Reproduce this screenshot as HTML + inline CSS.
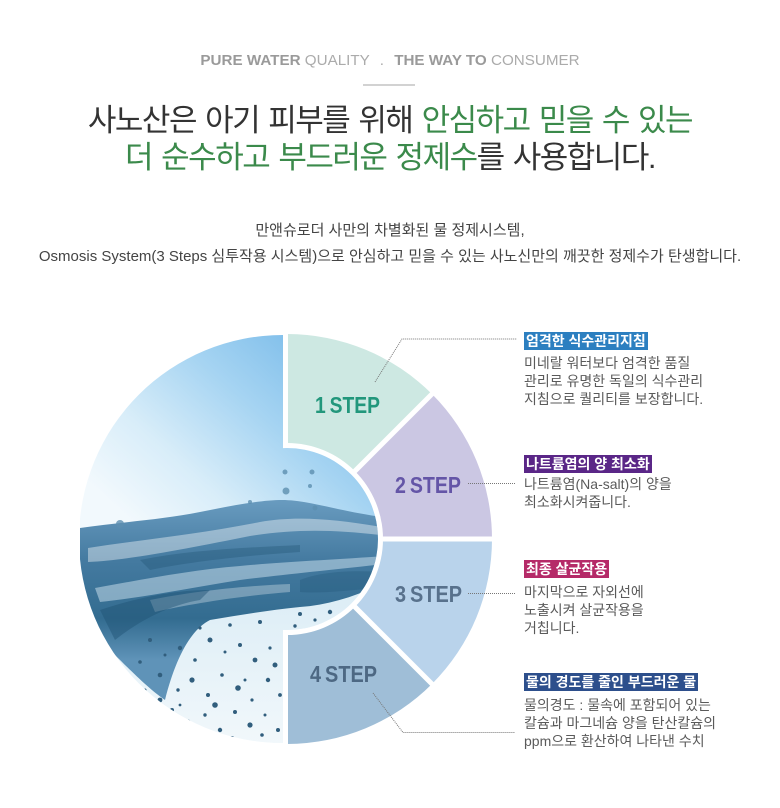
<!DOCTYPE html>
<html><head><meta charset="utf-8">
<style>
html,body{margin:0;padding:0;background:#fff;}
body{width:780px;height:808px;position:relative;overflow:hidden;font-family:"Liberation Sans","Noto Sans CJK KR",sans-serif;}
.abs{position:absolute;}
.box{position:absolute;left:524px;height:18px;line-height:18px;font-size:14px;font-weight:700;color:#fff;padding:0 2px;white-space:nowrap;font-family:"Liberation Sans","Noto Sans CJK KR",sans-serif;}
.body{position:absolute;left:524px;font-size:14px;line-height:18px;color:#5a5a5a;white-space:nowrap;font-family:"Liberation Sans","Noto Sans CJK KR",sans-serif;}
</style></head>
<body>

<div class="abs" style="left:0;top:52px;width:780px;text-align:center;font-family:'Liberation Sans',sans-serif;font-size:15.2px;line-height:18px;color:#ababab;"><b style="color:#9a9a9a">PURE WATER</b> QUALITY <span style="margin:0 6px">.</span> <b style="color:#9a9a9a">THE WAY TO</b> CONSUMER</div>
<div class="abs" style="left:363px;top:84px;width:52px;height:2px;background:#d2d2d2"></div>

<div class="abs" style="left:0;top:102px;width:780px;text-align:center;font-family:'Liberation Sans','Noto Sans CJK KR',sans-serif;font-size:31px;line-height:37px;letter-spacing:-1.5px;word-spacing:2px;color:#333;">사노산은 아기 피부를 위해 <span style="color:#3b8a4b">안심하고 믿을 수 있는</span><br><span style="color:#3b8a4b">더 순수하고 부드러운 정제수</span>를 사용합니다.</div>

<div class="abs" style="left:0;top:218px;width:780px;text-align:center;font-family:'Liberation Sans','Noto Sans CJK KR',sans-serif;font-size:15px;line-height:26px;color:#444;">만앤슈로더 사만의 차별화된 물 정제시스템,<br>Osmosis System(3 Steps 심투작용 시스템)으로 안심하고 믿을 수 있는 사노신만의 깨끗한 정제수가 탄생합니다.</div>

<svg class="abs" style="left:0;top:0" width="780" height="808" viewBox="0 0 780 808">
<defs>
  <clipPath id="imgclip">
    <path d="M283 335 A204 204 0 0 0 283 743 Z"/>
    <circle cx="287" cy="539" r="91"/>
  </clipPath>
  <linearGradient id="sky" gradientUnits="userSpaceOnUse" x1="300" y1="330" x2="130" y2="520">
    <stop offset="0" stop-color="#7dbdea"/>
    <stop offset="0.35" stop-color="#a6d4f2"/>
    <stop offset="0.7" stop-color="#d8edf9"/>
    <stop offset="1" stop-color="#f2f9fd"/>
  </linearGradient>
  <linearGradient id="bot" gradientUnits="userSpaceOnUse" x1="0" y1="590" x2="0" y2="750">
    <stop offset="0" stop-color="#dcedf6"/>
    <stop offset="1" stop-color="#f2f8fb"/>
  </linearGradient>
  <linearGradient id="wave" gradientUnits="userSpaceOnUse" x1="0" y1="495" x2="0" y2="660">
    <stop offset="0" stop-color="#6c9ec2"/>
    <stop offset="0.4" stop-color="#447aa0"/>
    <stop offset="0.75" stop-color="#336c90"/>
    <stop offset="1" stop-color="#5f93b8"/>
  </linearGradient>
</defs>

<g clip-path="url(#imgclip)">
  <rect x="80" y="330" width="310" height="420" fill="url(#sky)"/>
  <rect x="80" y="590" width="310" height="165" fill="url(#bot)"/>
  <path d="M80 528 C120 522,160 520,200 512 C230 506,260 500,282 500 C310 500,340 512,390 518 L390 580 C360 595,330 605,300 607 C270 610,240 615,210 620 C190 630,175 660,165 700 C150 690,130 670,115 655 C100 640,88 620,80 605 Z" fill="url(#wave)"/>
  <path d="M88 548 C140 540,200 534,260 522 C300 515,340 520,388 528 L388 536 C340 530,300 528,250 536 C190 548,130 560,88 562 Z" fill="#ffffff" opacity="0.4"/>
  <path d="M95 588 C140 580,190 570,240 566 C280 562,330 560,385 556 L385 564 C330 570,280 575,240 580 C190 588,140 598,100 602 Z" fill="#e2f2fb" opacity="0.45"/>
  <path d="M150 600 C190 592,240 586,290 584 L290 592 C240 596,190 604,155 612 Z" fill="#ffffff" opacity="0.3"/>
  <path d="M100 610 C130 600,170 590,210 590 L200 600 C170 605,140 620,115 640 Z" fill="#1f5274" opacity="0.45"/>
  <path d="M140 560 C190 550,240 548,300 545 L300 552 C240 556,190 562,150 570 Z" fill="#1f5274" opacity="0.35"/>
  <path d="M300 580 C320 572,350 570,380 572 L380 588 C350 590,320 594,300 592 Z" fill="#1f5274" opacity="0.3"/>
  <g fill="#315e7d">
    <circle cx="150" cy="640" r="2"/><circle cx="165" cy="655" r="1.5"/><circle cx="180" cy="648" r="2.2"/>
    <circle cx="195" cy="660" r="1.8"/><circle cx="210" cy="640" r="2.5"/><circle cx="225" cy="652" r="1.5"/>
    <circle cx="240" cy="645" r="2"/><circle cx="255" cy="660" r="2.4"/><circle cx="270" cy="648" r="1.6"/>
    <circle cx="160" cy="675" r="2.3"/><circle cx="178" cy="690" r="1.7"/><circle cx="192" cy="680" r="2.6"/>
    <circle cx="208" cy="695" r="2"/><circle cx="222" cy="675" r="1.8"/><circle cx="238" cy="688" r="2.8"/>
    <circle cx="252" cy="700" r="1.6"/><circle cx="268" cy="680" r="2.2"/><circle cx="280" cy="695" r="1.9"/>
    <circle cx="172" cy="710" r="2"/><circle cx="188" cy="722" r="2.5"/><circle cx="205" cy="715" r="1.7"/>
    <circle cx="220" cy="730" r="2.2"/><circle cx="235" cy="712" r="2"/><circle cx="250" cy="725" r="2.6"/>
    <circle cx="265" cy="715" r="1.5"/><circle cx="278" cy="730" r="2"/><circle cx="198" cy="736" r="1.6"/>
    <circle cx="232" cy="738" r="2"/><circle cx="140" cy="662" r="1.8"/><circle cx="145" cy="690" r="1.5"/>
    <circle cx="160" cy="700" r="2.4"/><circle cx="180" cy="705" r="1.4"/><circle cx="215" cy="705" r="2.8"/>
    <circle cx="245" cy="680" r="1.5"/><circle cx="262" cy="735" r="1.8"/><circle cx="275" cy="665" r="2.5"/>
    <circle cx="230" cy="625" r="1.8"/><circle cx="260" cy="622" r="2"/><circle cx="200" cy="628" r="1.6"/>
    <circle cx="300" cy="614" r="2"/><circle cx="315" cy="620" r="1.6"/><circle cx="330" cy="612" r="2.2"/>
    <circle cx="345" cy="617" r="1.5"/><circle cx="360" cy="609" r="1.8"/><circle cx="295" cy="626" r="1.7"/>
    <circle cx="320" cy="628" r="1.5"/>
  </g>
  <g fill="#5d8fb0" opacity="0.8">
    <circle cx="286" cy="491" r="3.5"/><circle cx="312" cy="472" r="2.5"/><circle cx="310" cy="486" r="2"/>
    <circle cx="285" cy="472" r="2.5"/><circle cx="120" cy="524" r="4"/><circle cx="250" cy="502" r="2"/>
    <circle cx="315" cy="508" r="2.5"/>
  </g>
</g>

<!-- segments -->
<path d="M287 334 A205 205 0 0 1 431.96 394.04 L354.88 471.12 A96 96 0 0 0 287 443 Z" fill="#cde8e2"/>
<path d="M431.96 394.04 A205 205 0 0 1 492 539 L383 539 A96 96 0 0 0 354.88 471.12 Z" fill="#cbc7e3"/>
<path d="M492 539 A205 205 0 0 1 431.96 683.96 L354.88 606.88 A96 96 0 0 0 383 539 Z" fill="#b9d3eb"/>
<path d="M431.96 683.96 A205 205 0 0 1 287 744 L287 635 A96 96 0 0 0 354.88 606.88 Z" fill="#9fbed7"/>
<g stroke="#fff" stroke-width="5">
  <line x1="285.5" y1="328" x2="285.5" y2="448"/>
  <line x1="285.5" y1="630" x2="285.5" y2="750"/>
  <line x1="351.7" y1="474.3" x2="437.6" y2="388.4"/>
  <line x1="380" y1="539" x2="500" y2="539"/>
  <line x1="351.7" y1="603.7" x2="437.6" y2="689.6"/>
</g>

<g font-family="'Liberation Sans',sans-serif" font-weight="700" font-size="23">
  <text x="315" y="413" fill="#22977c" textLength="65" lengthAdjust="spacingAndGlyphs">1&#8201;STEP</text>
  <text x="395" y="493" fill="#6455a7" textLength="66" lengthAdjust="spacingAndGlyphs">2&#8201;STEP</text>
  <text x="395" y="602" fill="#58718c" textLength="67" lengthAdjust="spacingAndGlyphs">3&#8201;STEP</text>
  <text x="310" y="682" fill="#4d6883" textLength="67" lengthAdjust="spacingAndGlyphs">4&#8201;STEP</text>
</g>

<g stroke="#777" stroke-width="1" fill="none" stroke-dasharray="1 1">
  <polyline points="375,382 402,339 517,339"/>
  <line x1="468" y1="483.5" x2="515" y2="483.5"/>
  <line x1="468" y1="593.5" x2="515" y2="593.5"/>
  <polyline points="373,693 403,732.5 515,732.5"/>
</g>
</svg>

<div class="box" style="top:332px;background:#2c7fc0;">엄격한 식수관리지침</div>
<div class="body" style="top:354px;">미네랄 워터보다 엄격한 품질<br>관리로 유명한 독일의 식수관리<br>지침으로 퀄리티를 보장합니다.</div>

<div class="box" style="top:455px;background:#5a2687;">나트륨염의 양 최소화</div>
<div class="body" style="top:475px;">나트륨염(Na-salt)의 양을<br>최소화시켜줍니다.</div>

<div class="box" style="top:560px;background:#b52a68;">최종 살균작용</div>
<div class="body" style="top:583px;">마지막으로 자외선에<br>노출시켜 살균작용을<br>거칩니다.</div>

<div class="box" style="top:673px;background:#2d4f8c;">물의 경도를 줄인 부드러운 물</div>
<div class="body" style="top:696px;">물의경도 : 물속에 포함되어 있는<br>칼슘과 마그네슘 양을 탄산칼슘의<br>ppm으로 환산하여 나타낸 수치</div>

</body></html>
